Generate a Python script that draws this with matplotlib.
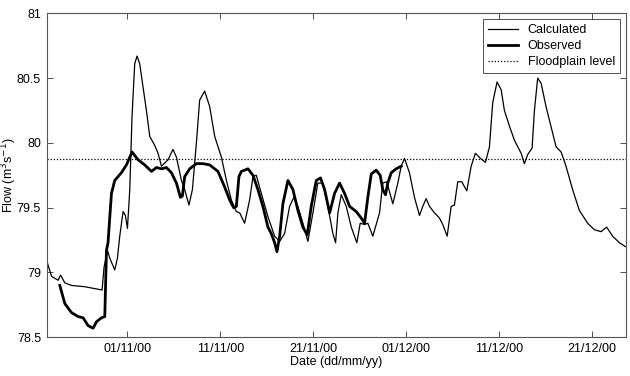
import matplotlib
matplotlib.use("Agg")
import matplotlib.pyplot as plt

# Days relative to 01/11/2000
calc_days = [-8.60, -8.17, -7.46, -7.20, -6.74, -6.02, -4.59, -3.87, -2.73, -2.52,
             -2.15, -1.90, -1.37, -1.08, -0.83, -0.47, -0.22, 0.00, 0.25, 0.49,
             0.78, 1.03, 1.32, 1.68, 2.04, 2.40, 2.94, 3.29, 3.66, 4.37,
             4.90, 5.27, 5.81, 6.16, 6.62, 6.99, 7.42, 7.77, 8.31, 8.85,
             9.39, 10.11, 10.65, 11.18, 11.72, 12.08, 12.61, 13.15, 13.51, 13.87,
             14.41, 15.12, 15.84, 16.38, 16.91, 17.45, 17.91, 18.34, 18.88, 19.42,
             19.96, 20.49, 21.03, 21.57, 22.11, 22.40, 22.65, 23.01, 23.55, 24.09,
             24.69, 25.05, 25.52, 25.87, 26.41, 27.13, 27.48, 27.91, 28.56, 29.10,
             29.46, 29.82, 30.35, 30.89, 31.43, 31.78, 32.15, 32.51, 33.05, 33.58,
             33.94, 34.41, 34.84, 35.19, 35.55, 35.98, 36.52, 36.99, 37.45, 37.99,
             38.53, 38.96, 39.31, 39.78, 40.22, 40.57, 41.11, 41.65, 42.37, 42.72,
             43.08, 43.55, 43.80, 44.15, 44.52, 45.05, 45.59, 46.13, 46.67, 47.20,
             47.91, 48.63, 49.53, 50.25, 50.97, 51.57, 52.22, 52.94, 53.58]
calc_flow = [79.07, 78.97, 78.94, 78.98, 78.92, 78.90, 78.89, 78.88, 78.865, 79.04,
             79.17, 79.11, 79.02, 79.11, 79.28, 79.47, 79.44, 79.34, 79.64, 80.20,
             80.61, 80.67, 80.61, 80.43, 80.25, 80.05, 79.98, 79.92, 79.82, 79.87,
             79.95, 79.89, 79.71, 79.64, 79.52, 79.64, 80.00, 80.33, 80.40, 80.28,
             80.05, 79.89, 79.71, 79.56, 79.47, 79.46, 79.38, 79.56, 79.74, 79.75,
             79.61, 79.43, 79.28, 79.24, 79.30, 79.51, 79.58, 79.51, 79.38, 79.24,
             79.46, 79.69, 79.69, 79.51, 79.30, 79.23, 79.46, 79.60, 79.51, 79.35,
             79.23, 79.38, 79.37, 79.38, 79.28, 79.46, 79.69, 79.70, 79.53, 79.69,
             79.82, 79.88, 79.77, 79.58, 79.44, 79.51, 79.57, 79.51, 79.46, 79.42,
             79.37, 79.28, 79.51, 79.52, 79.70, 79.70, 79.63, 79.82, 79.92, 79.88,
             79.85, 79.97, 80.31, 80.47, 80.41, 80.25, 80.13, 80.02, 79.92, 79.84,
             79.91, 79.96, 80.25, 80.50, 80.46, 80.28, 80.125, 79.97, 79.93, 79.82,
             79.64, 79.48, 79.38, 79.33, 79.315, 79.35, 79.28, 79.23, 79.20]

obs_days = [-7.28, -6.74, -6.02, -5.31, -4.77, -4.24, -3.70, -3.33, -2.80, -2.44,
            -2.26, -2.09, -1.90, -1.72, -1.37, -0.65, -0.11, 0.49, 1.14, 1.86,
            2.58, 3.12, 3.66, 4.19, 4.73, 5.27, 5.70, 5.91, 6.16, 6.70,
            7.42, 8.13, 8.85, 9.74, 10.46, 11.00, 11.43, 11.72, 12.00, 12.26,
            12.97, 13.51, 14.04, 14.58, 15.12, 15.48, 15.84, 16.09, 16.38, 16.73,
            17.27, 17.81, 18.34, 18.88, 19.35, 19.78, 20.32, 20.78, 21.22, 21.76,
            22.29, 22.83, 23.37, 23.91, 24.62, 25.16, 25.52, 25.87, 26.24, 26.77,
            27.20, 27.48, 27.77, 28.02, 28.39, 28.92, 29.46]
obs_flow = [78.90, 78.76, 78.69, 78.66, 78.65, 78.59, 78.57, 78.62, 78.65, 78.66,
            79.17, 79.23, 79.43, 79.61, 79.71, 79.77, 79.83, 79.93, 79.87, 79.83,
            79.78, 79.81, 79.80, 79.81, 79.77, 79.69, 79.58, 79.59, 79.74, 79.80,
            79.84, 79.84, 79.83, 79.78, 79.66, 79.56, 79.50, 79.51, 79.74, 79.78,
            79.80, 79.75, 79.64, 79.51, 79.35, 79.30, 79.23, 79.16, 79.28, 79.53,
            79.71, 79.64, 79.48, 79.35, 79.29, 79.51, 79.71, 79.73, 79.64, 79.46,
            79.61, 79.69, 79.61, 79.51, 79.47, 79.42, 79.38, 79.58, 79.76, 79.79,
            79.75, 79.64, 79.60, 79.69, 79.77, 79.80, 79.82]

floodplain_level = 79.875

tick_days = [0, 10, 20, 30, 40, 50]
tick_labels = ["01/11/00", "11/11/00", "21/11/00", "01/12/00", "11/12/00", "21/12/00"]
y_ticks = [78.5, 79, 79.5, 80, 80.5, 81]
y_labels = ["78.5", "79", "79.5", "80", "80.5", "81"]

plt.rcParams['font.family'] = ['Liberation Sans', 'DejaVu Sans']

fig = plt.figure(figsize=(6.3, 3.76), dpi=100)
ax = fig.add_axes([0.074, 0.103, 0.9197, 0.8616])

ax.plot(calc_days, calc_flow, color='black', lw=0.9, label='Calculated')
ax.plot(obs_days, obs_flow, color='black', lw=2.0, label='Observed')
ax.axhline(floodplain_level, color='black', lw=0.9, ls=(0, (1, 1.5)), label='Floodplain level')

ax.set_xlim(-8.7, 53.66)
ax.set_ylim(78.5, 81)
ax.set_xticks(tick_days)
ax.set_xticklabels(tick_labels)
ax.set_yticks(y_ticks)
ax.set_yticklabels(y_labels)
ax.tick_params(direction='in', top=True, right=True, length=4, width=0.6,
               labelsize=9, colors='#333333', labelcolor='black', pad=4)
for s in ax.spines.values():
    s.set_linewidth(0.8)
    s.set_color('#555555')

ax.set_xlabel('Date (dd/mm/yy)', fontsize=9, labelpad=1)
ax.set_ylabel('Flow (m$^3$s$^{-1}$)', fontsize=9)
ax.yaxis.set_label_coords(-0.047, 0.5)

leg = ax.legend(loc='upper right', fontsize=9, frameon=True, fancybox=False,
                edgecolor='black', handlelength=2.4, borderpad=0.4,
                labelspacing=0.3, handletextpad=0.8, borderaxespad=0.0,
                bbox_to_anchor=(0.9896, 0.981))
leg.get_frame().set_linewidth(0.6)

fig.savefig('out.png', dpi=100)
